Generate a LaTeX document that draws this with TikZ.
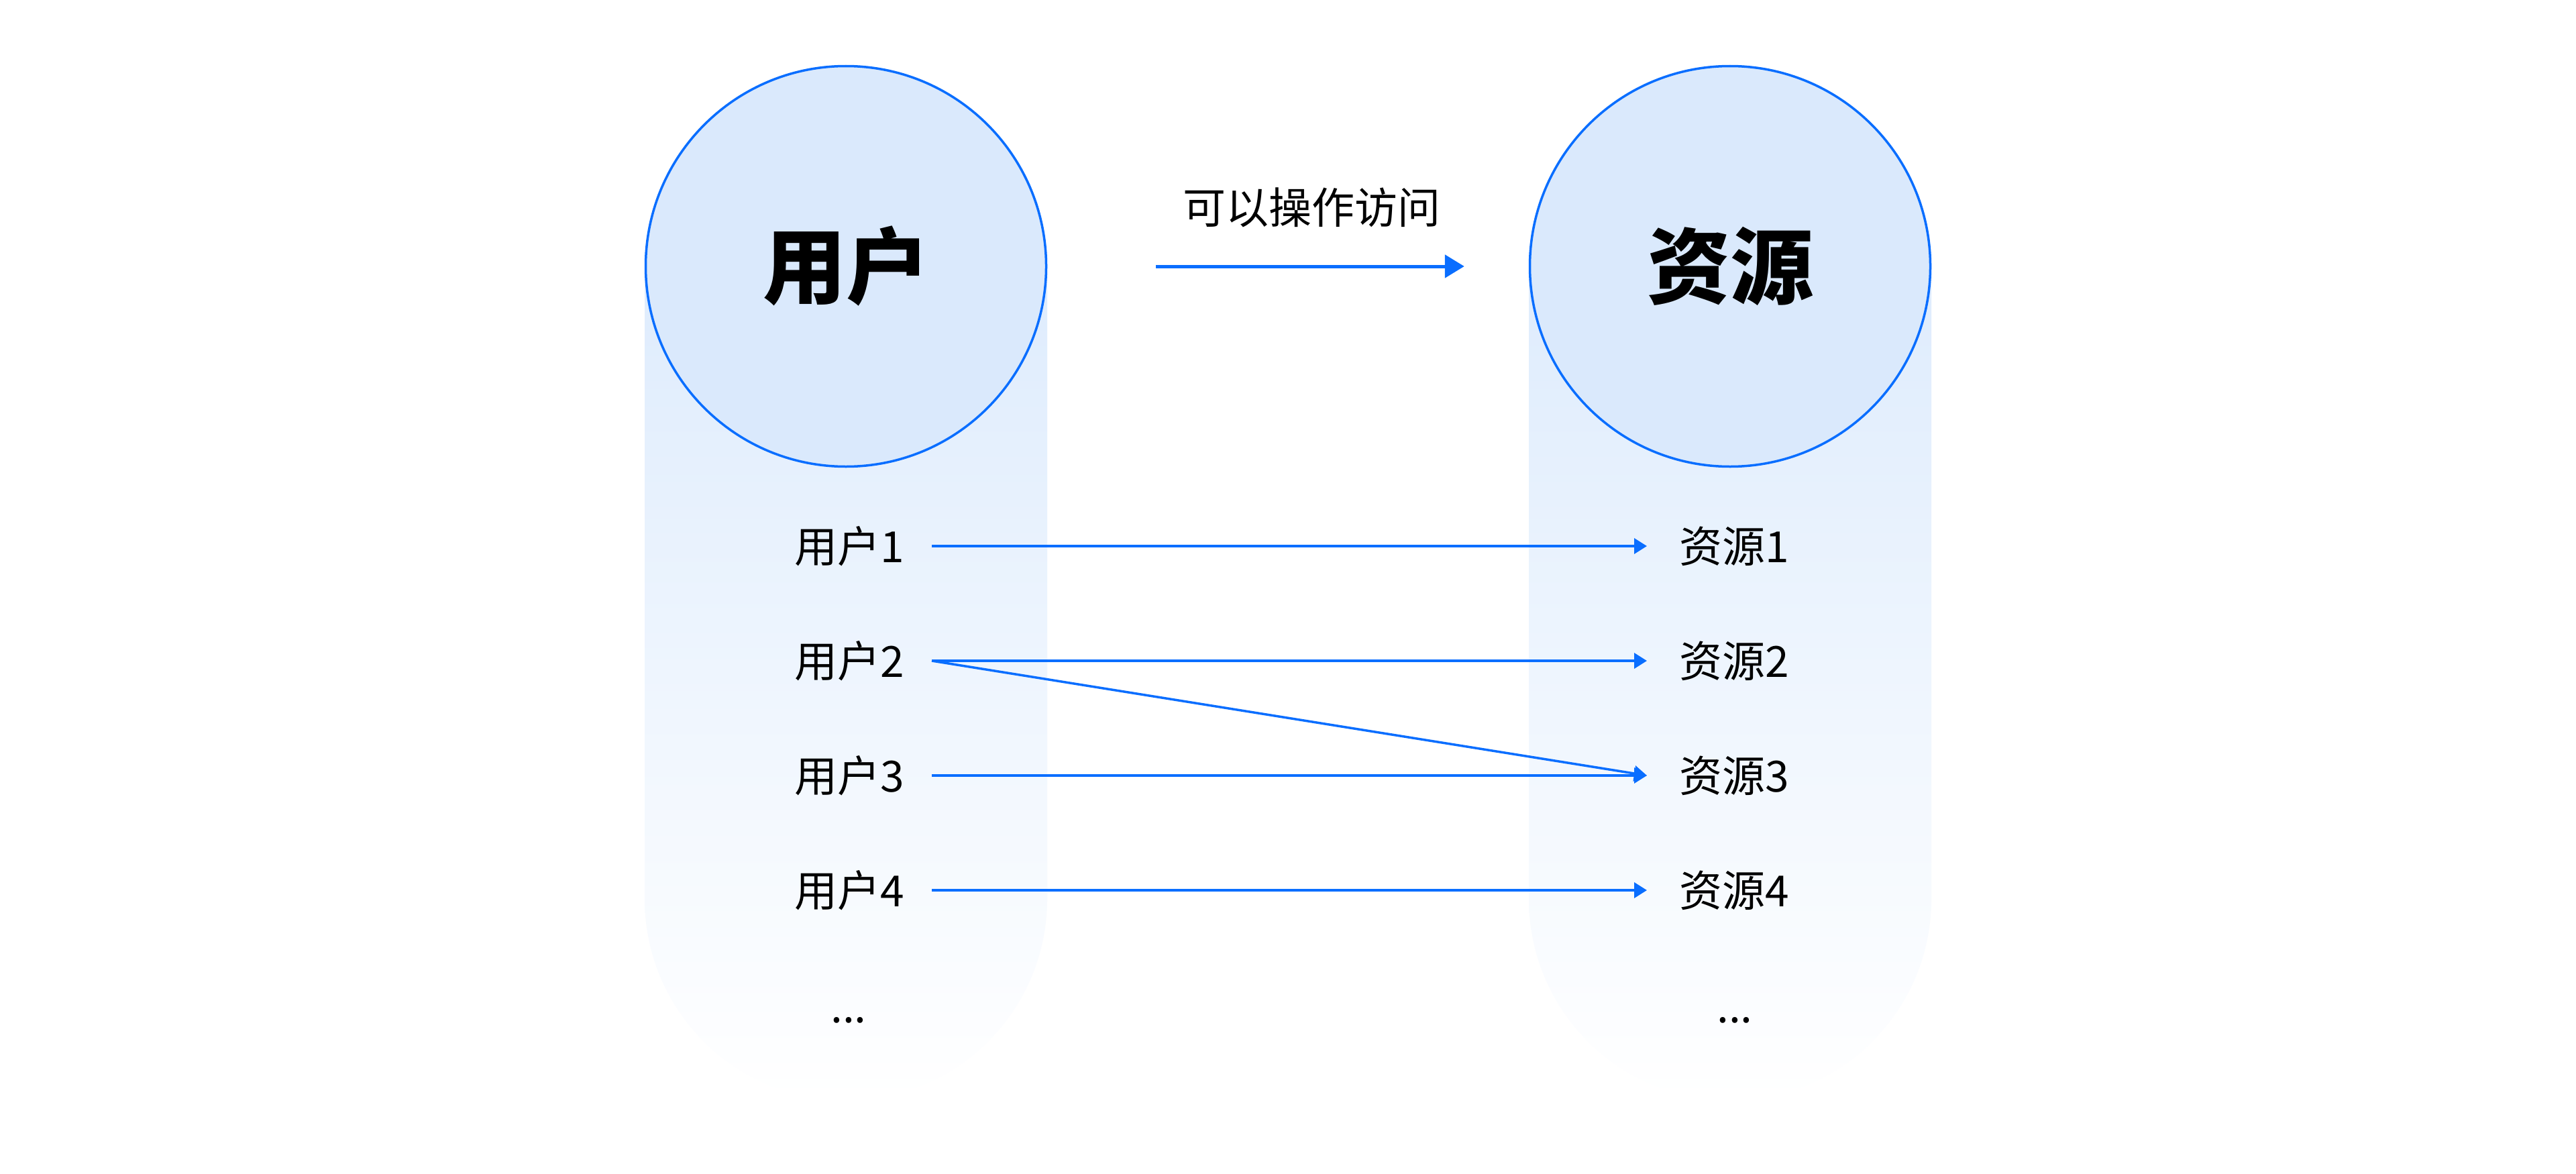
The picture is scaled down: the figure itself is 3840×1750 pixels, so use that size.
\documentclass[tikz,border=0pt]{standalone}
\usepackage{fontspec}
\setmainfont{Noto Sans CJK SC}
\usetikzlibrary{arrows.meta}
\definecolor{bl}{HTML}{0A6EFF}
\definecolor{cfill}{HTML}{DAE9FC}
\definecolor{coltop}{HTML}{D6E7FC}
\begin{document}
\begin{tikzpicture}[x=1pt,y=-1pt,
  circ/.style={circle, draw=bl, line width=3.5pt, fill=cfill, minimum size=597pt, inner sep=0pt,
    font=\fontsize{124}{124}\selectfont\bfseries},
  lab/.style={inner sep=0pt, font=\fontsize{64}{64}\selectfont, text=black},
  thinarr/.style={draw=bl, line width=3.5pt, -{Triangle[length=19pt,width=23pt]}},
  bigarr/.style={draw=bl, line width=5pt, -{Triangle[length=29pt,width=34pt]}},
  colshade/.style={top color=coltop, bottom color=white, rounded corners=300pt}
]
\useasboundingbox (0,0) rectangle (3840,1750);
\fill[white] (0,0) rectangle (3840,1750);
% columns
\shade[colshade] (961,97) rectangle (1561,1640);
\shade[colshade] (2279,97) rectangle (2879,1640);
% circles
\node[circ] (c1) at (1261,397) {用户};
\node[circ] (c2) at (2579,397) {资源};
% top arrow
\draw[bigarr, shorten <=162pt, shorten >=96pt] (c1) -- (c2);
\node[lab] (op) at (1955,309) {可以操作访问};
% labels
\node[lab, anchor=west] (u1) at (1184,814) {用户1};
\node[lab, anchor=west] (u2) at (1184,985) {用户2};
\node[lab, anchor=west] (u3) at (1184,1156) {用户3};
\node[lab, anchor=west] (u4) at (1184,1327) {用户4};
\node[lab, anchor=base] (u5) at (1265,1524) {...};
\node[lab, anchor=west] (r1) at (2503,814) {资源1};
\node[lab, anchor=west] (r2) at (2503,985) {资源2};
\node[lab, anchor=west] (r3) at (2503,1156) {资源3};
\node[lab, anchor=west] (r4) at (2503,1327) {资源4};
\node[lab, anchor=base] (r5) at (2586,1524) {...};
% arrow x positions
\coordinate (L) at (1389,0);
\coordinate (R) at (2455,0);
\draw[thinarr] (u1 -| L) -- (r1 -| R);
\draw[thinarr] (u2 -| L) -- (r2 -| R);
\draw[thinarr] (u2 -| L) -- (r3 -| R);
\draw[thinarr] (u3 -| L) -- (r3 -| R);
\draw[thinarr] (u4 -| L) -- (r4 -| R);
\end{tikzpicture}
\end{document}
